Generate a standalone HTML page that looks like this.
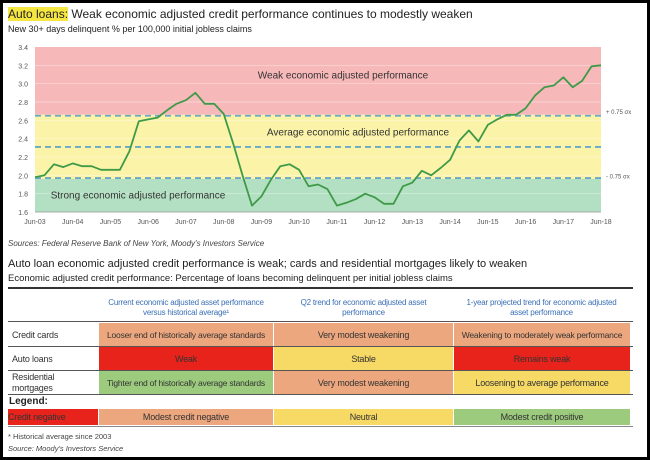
<!DOCTYPE html>
<html><head><meta charset="utf-8"><style>
*{margin:0;padding:0;box-sizing:border-box}
body{width:650px;height:460px;overflow:hidden;background:#000;font-family:"Liberation Sans",sans-serif}
#frame{position:absolute;left:3px;top:3px;width:644px;height:454px;background:#fff;overflow:hidden}
.t{position:absolute;white-space:nowrap;color:#222}
.cell{position:absolute;display:flex;align-items:center;justify-content:center;font-size:9px;color:#333;text-align:center;white-space:nowrap;overflow:hidden;letter-spacing:-0.2px}
</style></head><body>
<div id="frame">
<div class="t" style="left:5px;top:4px;font-size:12px"><span style="background:#f5e642">Auto loans:</span> Weak economic adjusted credit performance continues to modestly weaken</div>
<div class="t" style="left:5px;top:21px;font-size:9px">New 30+ days delinquent % per 100,000 initial jobless claims</div>
<svg id="chart" width="644" height="240" style="position:absolute;left:0;top:0"></svg>
<div class="t" style="left:5px;top:236px;font-size:8px;font-style:italic;color:#444">Sources: Federal Reserve Bank of New York, Moody's Investors Service</div>

<div class="t" style="left:5px;top:255px;font-size:11px">Auto loan economic adjusted credit performance is weak; cards and residential mortgages likely to weaken</div>
<div class="t" style="left:5px;top:270px;font-size:9.5px">Economic adjusted credit performance: Percentage of loans becoming delinquent per initial jobless claims</div>
<div style="position:absolute;left:5px;top:284px;width:625px;height:2px;background:#333"></div>
<div class="cell" style="left:96px;top:293px;width:174px;height:24px;color:#3a6fb5;font-size:8px;line-height:10px">Current economic adjusted asset performance<br>versus historical average¹</div>
<div class="cell" style="left:271px;top:293px;width:179px;height:24px;color:#3a6fb5;font-size:8px;line-height:10px">Q2 trend for economic adjusted asset<br>performance</div>
<div class="cell" style="left:450px;top:293px;width:177px;height:24px;color:#3a6fb5;font-size:8px;line-height:10px">1-year projected trend for economic adjusted<br>asset performance</div>
<div style="position:absolute;left:5px;top:318px;width:625px;height:1px;background:#555"></div>

<div class="cell" style="left:5px;top:320px;width:91px;height:23px;justify-content:flex-start;padding-left:4px">Credit cards</div>
<div class="cell" style="left:96px;top:320px;width:174px;height:23px;background:#eda77e;font-size:8.5px">Looser end of historically average standards</div>
<div class="cell" style="left:271px;top:320px;width:179px;height:23px;background:#eda77e">Very modest weakening</div>
<div class="cell" style="left:451px;top:320px;width:176px;height:23px;background:#eda77e;font-size:8.5px">Weakening to moderately weak performance</div>
<div style="position:absolute;left:5px;top:343px;width:625px;height:1px;background:#555"></div>

<div class="cell" style="left:5px;top:344px;width:91px;height:23px;justify-content:flex-start;padding-left:4px">Auto loans</div>
<div class="cell" style="left:96px;top:344px;width:174px;height:23px;background:#e8231c">Weak</div>
<div class="cell" style="left:271px;top:344px;width:179px;height:23px;background:#f7d965">Stable</div>
<div class="cell" style="left:451px;top:344px;width:176px;height:23px;background:#e8231c">Remains weak</div>
<div style="position:absolute;left:5px;top:367px;width:625px;height:1px;background:#555"></div>

<div class="cell" style="left:5px;top:368px;width:91px;height:23px;justify-content:flex-start;padding-left:4px;text-align:left;line-height:11px">Residential<br>mortgages</div>
<div class="cell" style="left:96px;top:368px;width:174px;height:23px;background:#9ccb7e;font-size:8.5px">Tighter end of historically average standards</div>
<div class="cell" style="left:271px;top:368px;width:179px;height:23px;background:#eda77e">Very modest weakening</div>
<div class="cell" style="left:451px;top:368px;width:176px;height:23px;background:#f7d965">Loosening to average performance</div>
<div style="position:absolute;left:5px;top:391px;width:625px;height:1px;background:#555"></div>

<div class="t" style="left:6px;top:393px;font-size:10px;font-weight:bold">Legend:</div>
<div class="cell" style="left:5px;top:406px;width:90px;height:16px;background:#e8231c;justify-content:flex-start">Credit negative</div>
<div class="cell" style="left:96px;top:406px;width:174px;height:16px;background:#eda77e">Modest credit negative</div>
<div class="cell" style="left:271px;top:406px;width:179px;height:16px;background:#f7d965">Neutral</div>
<div class="cell" style="left:451px;top:406px;width:176px;height:16px;background:#9ccb7e">Modest credit positive</div>
<div style="position:absolute;left:5px;top:423px;width:625px;height:1px;background:#888"></div>
<div class="t" style="left:5px;top:429px;font-size:7.5px;color:#444">* Historical average since 2003</div>
<div class="t" style="left:5px;top:441px;font-size:7.5px;font-style:italic;color:#444">Source: Moody's Investors Service</div>
</div>
<script>
const values=[1.98,2.0,2.12,2.09,2.13,2.10,2.10,2.06,2.06,2.06,2.26,2.59,2.61,2.63,2.71,2.78,2.82,2.90,2.78,2.78,2.67,2.35,2.0,1.67,1.77,1.95,2.10,2.12,2.06,1.88,1.90,1.85,1.67,1.70,1.74,1.80,1.76,1.69,1.69,1.88,1.92,2.05,2.0,2.08,2.17,2.38,2.49,2.37,2.55,2.61,2.66,2.66,2.73,2.87,2.96,2.98,3.07,2.96,3.03,3.19,3.20];
const xLabels=["Jun-03","Jun-04","Jun-05","Jun-06","Jun-07","Jun-08","Jun-09","Jun-10","Jun-11","Jun-12","Jun-13","Jun-14","Jun-15","Jun-16","Jun-17","Jun-18"];
const yTicks=[1.6,1.8,2.0,2.2,2.4,2.6,2.8,3.0,3.2,3.4];
const bands=[2.66,1.96];
const dashLevels=[2.65,2.31,1.97];
const ns="http://www.w3.org/2000/svg",svg=document.getElementById('chart');
const L=32,R=598,T=44,B=209,ymin=1.6,ymax=3.4;
const x=i=>L+(R-L)*i/(values.length-1), y=v=>B-(v-ymin)/(ymax-ymin)*(B-T);
function mk(t,a){const e=document.createElementNS(ns,t);for(const k in a)e.setAttribute(k,a[k]);svg.appendChild(e);return e;}
let e;
e=mk('rect',{x:L,y:T,width:R-L,height:y(bands[0])-T,fill:'#f6b8b8'});


e=mk('rect',{x:L,y:y(bands[0]),width:R-L,height:y(bands[1])-y(bands[0]),fill:'#fbf3a8'});


e=mk('rect',{x:L,y:y(bands[1]),width:R-L,height:B-y(bands[1]),fill:'#b3e0c2'});


yTicks.forEach(v=>{
 if(v>ymin&&v<ymax){e=mk('line',{x1:L,x2:R,y1:y(v),y2:y(v),stroke:'#fff','stroke-opacity':0.5,'stroke-width':0.7});}
 e=mk('text',{x:L-7,y:y(v)+3,'font-size':7,'text-anchor':'end',fill:'#555'});e.textContent=v.toFixed(1);
 
 
});
dashLevels.forEach(v=>{
 e=mk('line',{x1:L,x2:R,y1:y(v),y2:y(v),stroke:'#6aa8c8','stroke-width':1.8,'stroke-dasharray':'6,4'});
 
 
});
mk('line',{x1:L,x2:R,y1:B,y2:B,stroke:'#999','stroke-width':0.8});
xLabels.forEach((s,i)=>{
 const xx=L+(R-L)*i/(xLabels.length-1);
 e=mk('text',{x:xx,y:B+12,'font-size':7,'text-anchor':'middle',fill:'#555'});e.textContent=s;
 
 
});
const zl=[["Weak economic adjusted performance",340,y(3.1)+4],["Average economic adjusted performance",355,y(2.48)+4],["Strong economic adjusted performance",135,y(1.79)+4]];
zl.forEach(z=>{e=mk('text',{x:z[1],y:z[2],'font-size':10,'text-anchor':'middle',fill:'#333'});e.textContent=z[0];
 
 });
e=mk('text',{x:603,y:y(2.7)+3,'font-size':6,fill:'#555'});e.textContent='+ 0.75 σx';


e=mk('text',{x:603,y:y(2.0)+3,'font-size':6,fill:'#555'});e.textContent='- 0.75 σx';


const pts=values.map((v,i)=>x(i).toFixed(1)+','+y(v).toFixed(1)).join(' ');
e=mk('polyline',{points:pts,fill:'none',stroke:'#3f9a48','stroke-width':1.8,'stroke-linejoin':'round'});


</script>
</body></html>
